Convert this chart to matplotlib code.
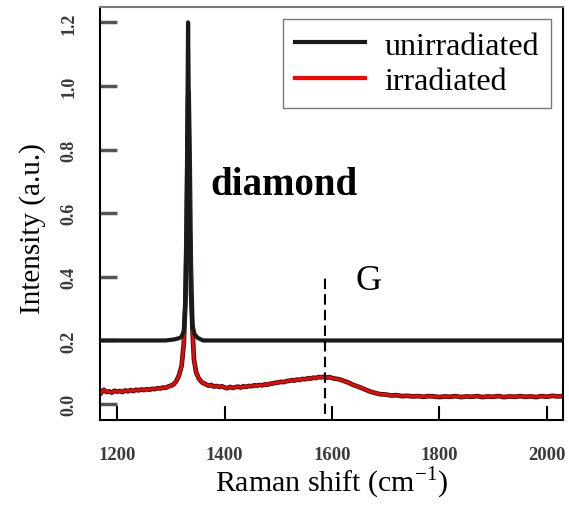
import matplotlib.pyplot as plt
import matplotlib.patheffects as pe

# unirradiated spectrum (offset by 0.2)
wn_unirr = [1168, 1290, 1305, 1315, 1320, 1324, 1327, 1329, 1331, 1332, 1333, 1335,
            1337, 1340, 1344, 1350, 1360, 2030]
int_unirr = [0.2, 0.2, 0.203, 0.207, 0.212, 0.23, 0.32, 0.55, 0.95, 1.2, 1.02, 0.6,
             0.35, 0.25, 0.22, 0.208, 0.2, 0.2]

# irradiated spectrum
wn_irr = [1170, 1175, 1180, 1185, 1190, 1195, 1200, 1205, 1210, 1215,
          1220, 1225, 1230, 1235, 1240, 1245, 1250, 1255, 1260, 1265,
          1270, 1275, 1280, 1285, 1290, 1295, 1300, 1305, 1310, 1315,
          1320, 1324, 1327, 1329, 1331, 1332, 1333, 1335, 1337, 1340,
          1343, 1347, 1352, 1358, 1365, 1370, 1375, 1380, 1385, 1390,
          1395, 1400, 1405, 1410, 1415, 1420, 1425, 1430, 1435, 1440,
          1445, 1450, 1455, 1460, 1465, 1470, 1475, 1480, 1485, 1490,
          1495, 1500, 1505, 1510, 1515, 1520, 1525, 1530, 1535, 1540,
          1545, 1550, 1555, 1560, 1565, 1570, 1575, 1580, 1585, 1590,
          1595, 1600, 1605, 1610, 1615, 1620, 1625, 1630, 1640, 1650,
          1660, 1670, 1680, 1690, 1700, 1710, 1720, 1730, 1740, 1750,
          1760, 1770, 1780, 1790, 1800, 1810, 1820, 1830, 1840, 1850,
          1860, 1870, 1880, 1890, 1900, 1910, 1920, 1930, 1940, 1950,
          1960, 1970, 1980, 1990, 2000, 2010, 2020, 2030]
int_irr = [0.035, 0.045, 0.038, 0.040, 0.036, 0.042, 0.039, 0.041, 0.038, 0.043,
           0.040, 0.044, 0.041, 0.045, 0.043, 0.046, 0.044, 0.047, 0.045, 0.048,
           0.047, 0.050, 0.049, 0.052, 0.051, 0.055, 0.058, 0.062, 0.072, 0.090,
           0.12, 0.19, 0.32, 0.52, 0.78, 0.96, 0.98, 0.75, 0.45, 0.24,
           0.14, 0.10, 0.080, 0.068, 0.062, 0.058, 0.060, 0.055, 0.057, 0.054,
           0.056, 0.052, 0.050, 0.054, 0.051, 0.053, 0.055, 0.052, 0.056, 0.054,
           0.057, 0.056, 0.059, 0.058, 0.060, 0.059, 0.062, 0.061, 0.064, 0.065,
           0.067, 0.068, 0.070, 0.069, 0.072, 0.073, 0.075, 0.074, 0.077, 0.076,
           0.079, 0.078, 0.081, 0.080, 0.083, 0.082, 0.085, 0.084, 0.086, 0.083,
           0.085, 0.082, 0.080, 0.079, 0.077, 0.074, 0.071, 0.068, 0.060, 0.054,
           0.047, 0.040, 0.035, 0.031, 0.030, 0.027, 0.028, 0.025, 0.026, 0.024,
           0.025, 0.023, 0.025, 0.024, 0.022, 0.024, 0.023, 0.025, 0.022, 0.024,
           0.023, 0.025, 0.022, 0.024, 0.023, 0.025, 0.022, 0.024, 0.023, 0.025,
           0.023, 0.024, 0.022, 0.025, 0.023, 0.026, 0.024, 0.025]

xticks = [1200, 1400, 1600, 1800, 2000]
yticks = [0.0, 0.2, 0.4, 0.6, 0.8, 1.0, 1.2]
g_band = 1587

serif = ['Liberation Serif', 'DejaVu Serif']

fig = plt.figure(figsize=(5.69, 5.06), dpi=100)
ax = fig.add_axes([0.1757, 0.168, 0.8138, 0.816])

ax.plot(wn_irr, int_irr, color='red', lw=2.0, zorder=2,
        path_effects=[pe.withStroke(linewidth=3.4, foreground='#222222')],
        label='irradiated')
ax.plot(wn_unirr, int_unirr, color='#1a1a1a', lw=3.0, zorder=3, label='unirradiated')

ax.plot([g_band, g_band], [-0.03, 0.4], color='black', lw=1.5, ls=(0, (5, 2.5)), zorder=4)
ax.text(1373, 0.66, 'diamond', fontsize=28, fontweight='bold', family=serif, va='baseline')
ax.text(1643, 0.362, 'G', fontsize=26, family=serif, va='baseline')

ax.set_xlim(1168, 2030)
ax.set_ylim(-0.05, 1.248)
ax.set_xticks(xticks)
ax.set_yticks(yticks)
ax.set_xticklabels([str(t) for t in xticks], family=serif, fontweight='bold')
ax.set_yticklabels(['%.1f' % t for t in yticks], rotation=90, va='center',
                   family=serif, fontweight='bold')
ax.tick_params(axis='x', direction='in', length=10, width=1.5, color='black',
               pad=19, labelsize=13.5, labelcolor='#3a3a3a')
ax.tick_params(axis='y', direction='in', length=12, width=2.5, color='#555555',
               pad=16, labelsize=13, labelcolor='#3a3a3a')

for s in ['left', 'bottom', 'right']:
    ax.spines[s].set_linewidth(1.5)
    ax.spines[s].set_color('black')
ax.spines['top'].set_color('#777777')
ax.spines['top'].set_linewidth(1.5)

ax.set_xlabel('Raman shift (cm$^{\\mathregular{-1}}$)', fontsize=21.5, family=serif, labelpad=0)
ax.set_ylabel('Intensity (a.u.)', fontsize=21, family=serif)
ax.yaxis.set_label_coords(-0.117, 0.467)

handles, labels = ax.get_legend_handles_labels()
leg = ax.legend(handles[::-1], labels[::-1], loc='upper right', bbox_to_anchor=(0.974, 0.971),
                prop={'family': serif, 'size': 23}, frameon=True, fancybox=False,
                edgecolor='#555555', handlelength=2.2, handletextpad=0.6,
                borderpad=0.38, labelspacing=0.18, borderaxespad=0)
leg.get_frame().set_linewidth(1.0)
for line in leg.get_lines():
    line.set_path_effects([])
    line.set_linewidth(3)

plt.savefig('out.png', dpi=100)
plt.close()
